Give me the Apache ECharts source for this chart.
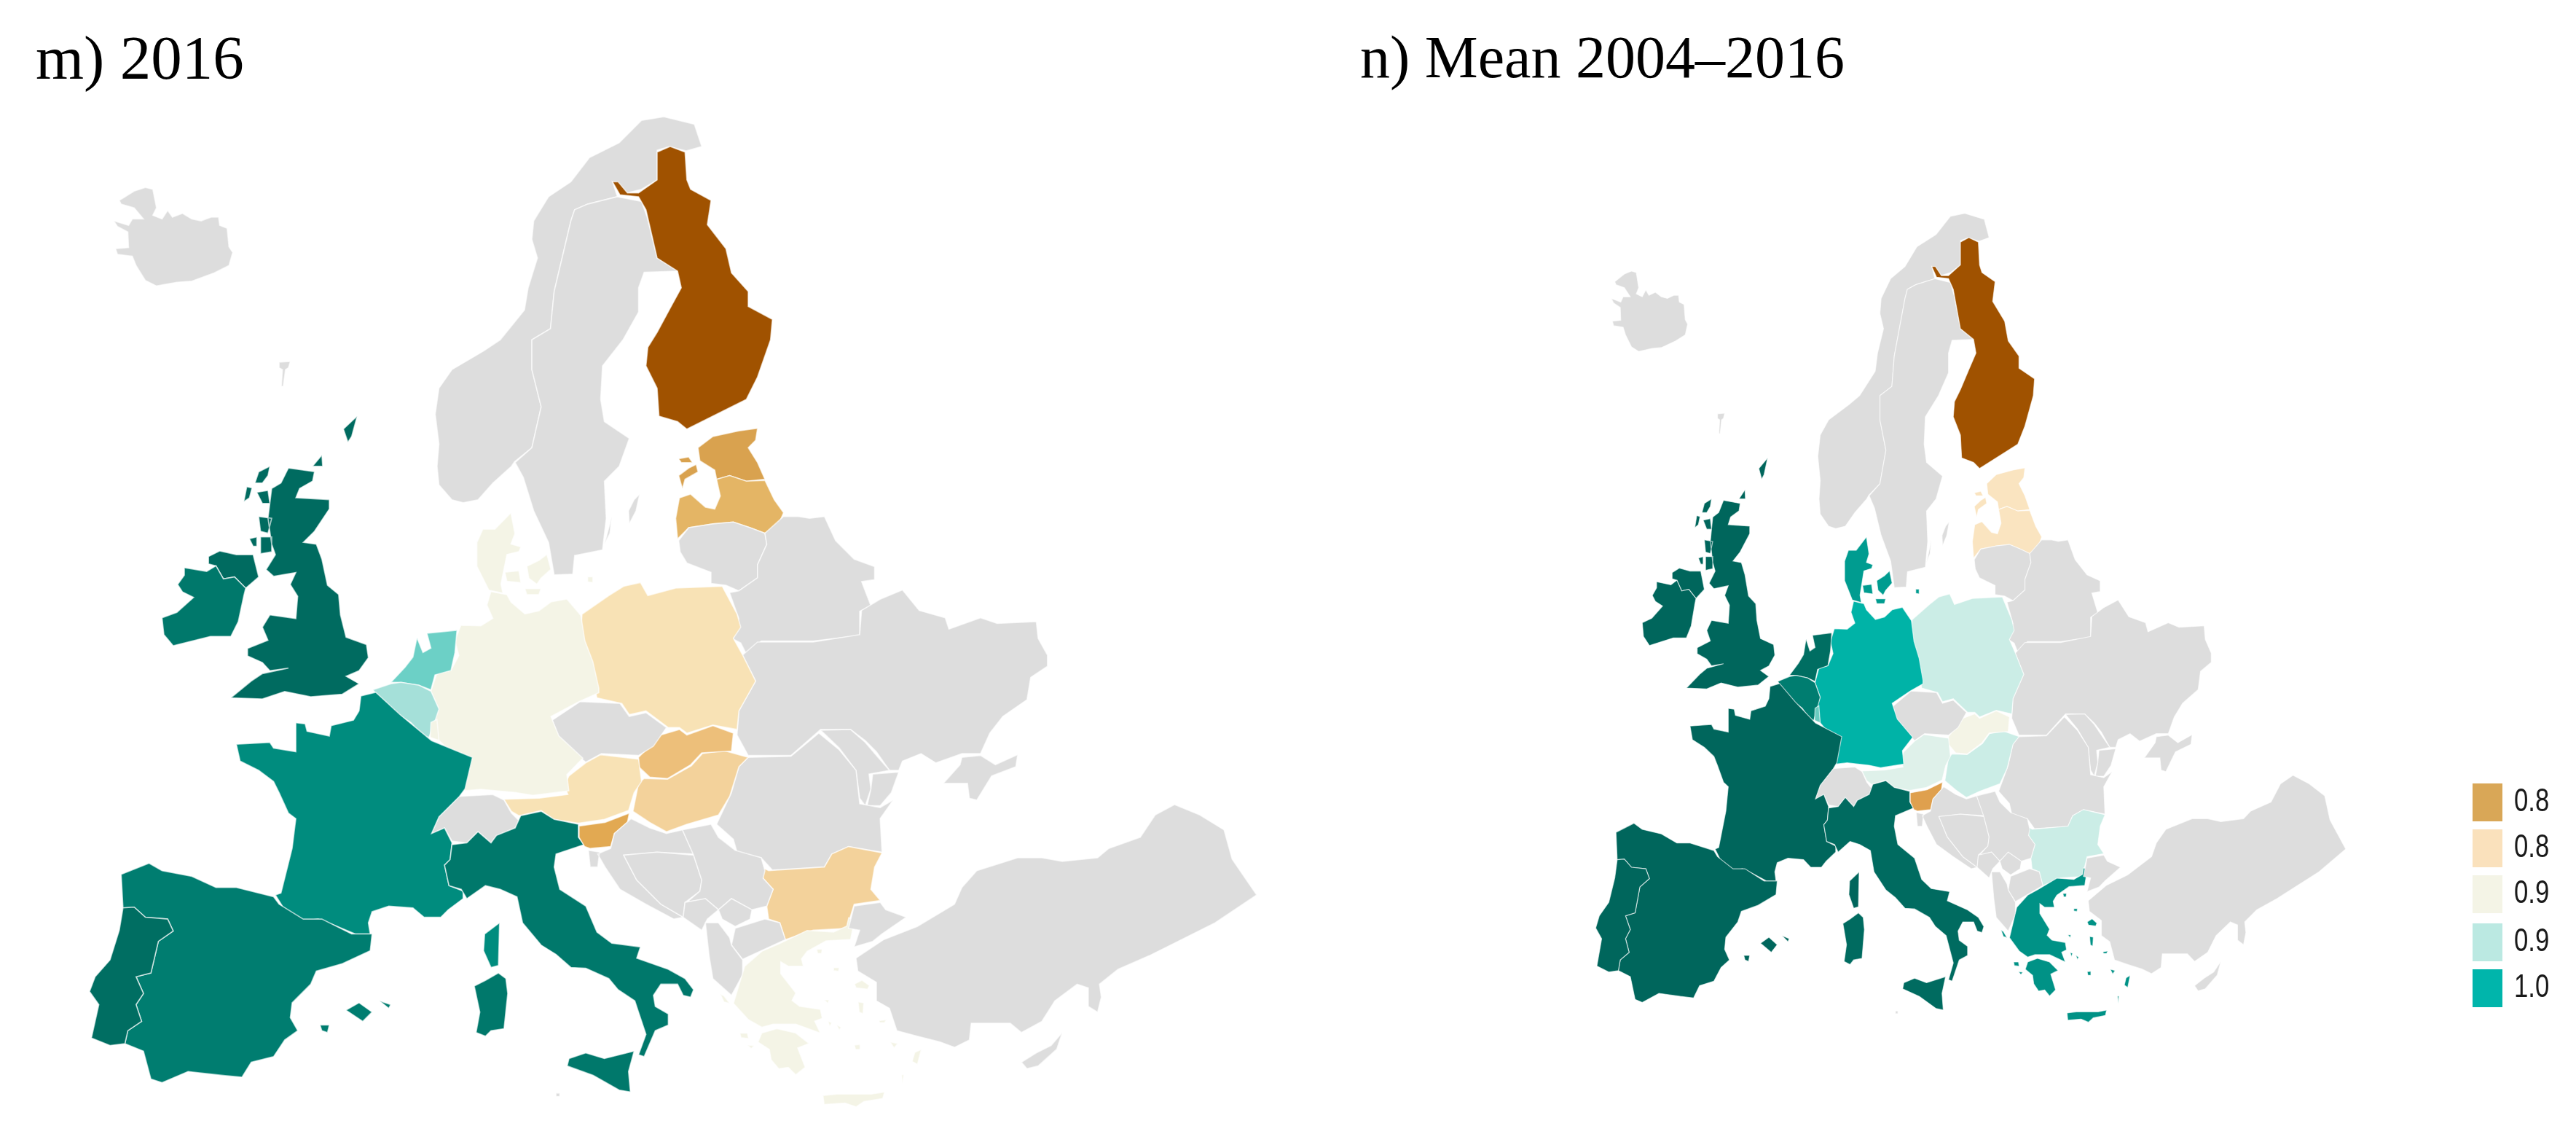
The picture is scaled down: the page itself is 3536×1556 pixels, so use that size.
<!DOCTYPE html>
<html><head><meta charset="utf-8">
<style>html,body{margin:0;padding:0;background:#fff}#c{width:3536px;height:1556px}</style>
<script src="https://cdn.jsdelivr.net/npm/echarts@6/dist/echarts.min.js"></script>
</head><body><div id="c"></div>
<script>
// ---- data ----
const countries = ['Finland','Estonia','Latvia','Poland','Germany','Denmark','Netherlands','Belgium','Luxembourg','France','Spain','Portugal','Italy','United Kingdom','Northern Ireland','Ireland','Slovakia','Hungary','Austria','Slovenia','Bulgaria','Greece'];
const values2016 = [0.60,0.76,0.78,0.82,0.87,0.87,0.94,0.92,0.87,1.02,1.04,1.07,1.05,1.08,1.08,1.05,0.80,0.81,0.82,0.77,0.81,0.87];
const valuesMean = [0.60,0.83,0.83,0.90,1.00,1.01,1.07,1.04,0.96,1.09,1.09,1.09,1.08,1.09,1.09,1.09,0.87,0.90,0.895,0.75,0.90,1.03];
const levels = [0.60,0.75,0.76,0.77,0.78,0.80,0.81,0.82,0.83,0.87,0.895,0.90,0.92,0.94,0.96,1.00,1.01,1.02,1.03,1.04,1.05,1.07,1.08,1.09];
const levelColors = ['#A05200','#DFA04E','#D9A24F','#E2A952','#E4B565','#EDBF7A','#F3D29B','#F8E2B5','#FAE4C0','#F4F4E6','#DFF1EA','#CBEDE6','#A5E0D9','#6CD0C6','#6ACBC0','#00B3A7','#009C90','#008C7E','#009286','#007D70','#00786B','#006E62','#006B60','#00665C'];
const legendLabels = ['0.8','0.8','0.9','0.9','1.0'];
const legendColors = ['#D9A757','#FAE1BC','#F4F4E6','#BBE9E2','#00B5AB'];
const titles = ['m) 2016','n) Mean 2004\u20132016'];

// ---- outline sources: local tracing frames [originX, originY, scaleX, scaleY] ----
const frames = {
  A:[100,150,.5102,.5102], B:[800,150,.5102,.5102], C:[100,756,.5102,.5102], D:[800,756,.5102,.5102],
  E:[355.6,658.8,.5487,.408], F:[838.2,1209.5,.5187,.408]
};
const shapes = {
 'Iceland':[['A',[110,300,150,312,160,295,190,295,165,265,130,255,125,245,165,220,195,210,215,215,225,265,215,285,240,295,255,272,268,290,295,280,320,295,345,300,372,290,392,290,395,312,415,320,420,370,430,385,420,420,380,440,320,462,280,465,225,475,195,460,170,420,160,395,120,390,115,375,150,372,148,330,120,315]]],
 'Faroe':[['A',[555,680,585,678,580,695,572,700,566,745,561,745,564,700,555,695]]],
 'Norway':[['A',[1050,1058,1090,1050,1130,1005,1180,960,1188,948,1235,910,1260,800,1235,700,1235,620,1285,590,1295,490,1340,300,1350,270,1385,255,1465,235,1452,195,1490,225,1530,215,1572,190,1572,110,1605,100,1650,112,1692,100,1672,40,1590,20,1530,30,1470,90,1390,130,1340,195,1280,235,1240,300,1235,350,1250,400,1225,480,1215,540,1150,620,1105,650,1020,700,985,750,975,820,985,900,980,960,985,1010,1020,1050]]],
 'Sweden':[['A',[1385,255,1465,235,1490,240,1530,248,1545,290,1572,400,1627,435,1537,438,1522,480,1522,545,1480,620,1425,690,1420,780,1430,840,1497,885,1470,960,1430,1000,1435,1100,1425,1185,1350,1200,1345,1250,1295,1252,1280,1165,1240,1080,1212,990,1190,950,1235,910,1260,800,1235,700,1235,620,1285,590,1295,490,1340,300,1350,270]],
   ['A',[1525,1035,1510,1050,1495,1080,1497,1115,1515,1080]],['A',[1450,1095,1430,1170,1445,1140]]],
 'Finland':[['B',[235,100,275,115,280,190,290,215,345,245,335,310,385,375,400,440,445,490,445,530,510,565,505,620,470,720,440,780,380,810,280,860,255,840,205,825,200,750,170,690,175,640,200,600,235,535,265,480,255,435,200,400,170,270,150,235,100,230,80,195,95,195,120,225,150,225,200,190,200,115]]],
 'Estonia':[['B',[310,910,350,880,420,865,470,858,465,890,445,910,470,950,490,995,440,1000,395,985,360,995,355,970,315,945]],['B',[258,985,285,965,305,955,310,975,275,995,268,1020]],['B',[258,940,285,935,295,950,265,950]]],
 'Latvia':[['B',[360,995,395,985,440,1000,490,998,515,1050,540,1085,525,1120,490,1140,450,1125,405,1110,350,1115,285,1125,255,1155,250,1100,260,1045,290,1035,330,1070,355,1075,370,1040]]],
 'Lithuania':[['B',[258,1160,285,1125,350,1115,405,1110,450,1125,490,1140,495,1170,470,1225,470,1260,420,1295,385,1280,345,1275,345,1245,280,1220,262,1190]]],
 'Belarus':[['B',[490,1140,540,1095,580,1095,610,1100,650,1095,680,1160,730,1210,785,1230,785,1265,750,1270,775,1335,745,1350,745,1415,620,1430,480,1430,440,1465,425,1435,405,1425,420,1370,395,1300,420,1295,470,1260,470,1225,495,1170]]],
 'Ukraine':[['D',[745,225,750,160,800,130,860,105,905,160,975,180,985,210,1070,180,1115,195,1220,190,1225,235,1250,280,1250,310,1205,340,1195,400,1130,445,1095,490,1070,545,1020,545,950,570,910,545,860,565,850,590,825,590,790,540,760,510,720,480,640,480,560,550,445,550,415,495,420,430,465,350,430,280,470,245,620,245]],
   ['D',[970,625,1015,575,1020,555,1070,550,1110,575,1170,548,1165,580,1100,605,1060,670,1040,665,1035,625]],
   ['D',[780,600,850,595,830,650,800,685,765,685,775,640]]],
 'Moldova':[['D',[640,482,720,480,760,515,790,550,825,590,770,600,775,640,760,685,745,665,735,590,690,530]]],
 'Romania':[['D',[445,555,560,552,635,490,690,535,735,590,745,680,800,690,835,670,800,720,805,810,715,795,670,815,650,850,510,858,480,825,415,810,405,775,360,735,400,650,420,580]]],
 'Bulgaria':[['D',[480,850,500,860,650,850,670,815,715,795,805,812,785,850,775,910,800,940,730,950,710,1015,620,1020,545,1045,530,1000,500,990,495,955,512,910,485,880]]],
 'Hungary':[['D',[150,625,165,612,228,614,292,578,322,545,380,537,445,555,420,580,395,660,365,710,280,735,225,755,180,730,135,700]]],
 'Slovakia':[['D',[150,555,210,495,260,480,280,495,350,470,405,490,400,538,320,543,290,575,228,612,180,608,150,580]]],
 'Poland':[['D',[-2,170,70,120,110,95,155,85,175,120,250,100,375,95,415,170,425,205,405,235,430,280,465,350,420,430,415,480,350,468,280,490,260,475,230,475,170,430,125,440,105,410,38,395,28,350,-7,240]]],
 'Czechia':[['D',[-82,455,-7,405,100,410,125,445,170,435,225,475,190,525,150,550,50,545,8,568,-62,510]]],
 'Austria':[['C',[1160,668,1180,700,1200,712,1260,698,1295,722,1360,732,1430,722,1495,698,1510,650,1530,620,1522,560,1420,548,1380,570,1335,605,1322,630,1332,655,1255,665]]],
 'Switzerland':[['C',[1040,660,1130,655,1160,670,1180,705,1200,725,1190,745,1140,765,1125,785,1090,755,1060,785,1020,780,1000,745,965,760,985,715]]],
 'Germany':[['E',[505,488,555,490,585,465,570,420,580,375,620,385,630,410,665,450,700,440,730,410,770,400,805,455,815,540,835,610,850,700,850,715,800,745,730,795,750,860,810,935,770,990,775,1045,685,1060,640,1050,555,1040,510,1045,525,930,470,900,450,875,440,800,450,770,430,710,445,650,480,640,500,590,490,540]]],
 'Netherlands':[['E',[420,515,495,505,490,580,480,640,440,655,430,705,400,690,355,680,330,680,365,630,385,595,395,530,410,580,430,565]]],
 'Belgium':[['E',[285,705,330,685,355,680,400,690,430,710,450,770,440,810,425,865,410,860,380,815,320,765]]],
 'Luxembourg':[['E',[430,815,445,805,450,875,428,865]]],
 'Denmark':[['E',[630,110,640,180,630,215,655,225,650,240,620,250,605,350,610,380,575,370,560,330,545,290,545,210,560,165,590,165]],['E',[615,310,650,305,655,345,620,340]],['E',[670,290,700,270,720,250,730,300,705,330,695,350,675,330]],['E',[665,365,705,365,700,385,670,385]],['E',[822,325,835,325,835,345,822,342]]],
 'France':[['C',[775,390,815,380,880,440,965,510,1075,555,1055,640,1040,660,985,715,965,760,1000,745,1020,785,1015,830,1000,845,1012,900,1050,915,1050,935,1010,965,990,985,945,985,915,960,850,955,805,970,795,1000,800,1030,760,1030,700,1005,660,990,620,995,570,965,545,925,560,920,590,800,600,720,580,705,555,650,540,620,500,590,450,565,440,520,530,515,540,530,600,540,600,462,625,465,630,485,690,498,695,470,755,455,770,430]],['C',[1148,1000,1145,1115,1125,1120,1105,1075,1108,1030]]],
 'Spain':[['C',[130,870,205,840,240,860,320,875,385,905,440,905,540,930,555,950,620,990,670,990,750,1030,805,1030,800,1075,725,1110,655,1130,640,1165,590,1215,585,1255,605,1290,570,1315,540,1360,480,1375,455,1415,400,1410,310,1400,240,1430,210,1420,190,1345,140,1325,148,1290,185,1265,170,1220,190,1190,170,1145,210,1135,230,1050,270,1022,255,990,195,985,165,958,135,960]],['C',[735,1235,770,1215,805,1240,780,1265]],['C',[825,1210,855,1220,850,1230]],['C',[665,1275,690,1275,685,1295,670,1290]]],
 'Portugal':[['C',[135,960,165,958,195,985,255,990,270,1022,230,1050,210,1135,170,1145,190,1190,170,1220,185,1265,148,1290,140,1325,100,1330,50,1310,70,1220,45,1185,60,1145,100,1100,125,1020]]],
 'Italy':[['C',[1020,790,1060,785,1090,755,1125,785,1140,765,1190,745,1205,712,1260,700,1295,722,1360,735,1360,770,1375,790,1300,815,1295,850,1310,910,1380,955,1410,1025,1450,1055,1527,1065,1517,1095,1602,1125,1647,1150,1670,1180,1662,1200,1642,1195,1627,1165,1582,1165,1562,1195,1567,1225,1602,1245,1602,1275,1567,1290,1537,1360,1522,1355,1542,1300,1522,1240,1512,1210,1467,1180,1442,1150,1380,1122,1340,1120,1300,1085,1260,1060,1210,1000,1195,930,1150,910,1110,900,1060,935,1045,910,1012,900,1000,845,1015,830]],
   ['C',[1145,1135,1165,1150,1170,1190,1160,1285,1125,1290,1110,1305,1085,1295,1095,1240,1080,1170,1110,1155]],
   ['C',[1335,1365,1380,1350,1430,1365,1510,1345,1495,1400,1500,1455,1470,1450,1400,1410,1330,1385]]],
 'Malta':[['C',[1300,1458,1310,1458,1310,1467,1300,1467]]],
 'United Kingdom':[['C',[580,-223,650,-213,645,-188,610,-168,600,-143,690,-138,690,-113,650,-53,620,-23,655,-18,670,22,685,92,715,117,720,172,735,232,790,252,795,287,770,322,735,337,770,357,725,385,640,392,570,378,510,398,425,395,480,350,510,330,580,315,530,322,510,300,470,282,470,262,525,240,510,205,530,172,600,182,605,122,585,90,600,58,540,68,520,50,545,10,535,-18,525,-88,535,-168,560,-183]],
   ['A',[490,1005,500,975,530,960,525,985,510,1005]],['A',[460,1055,468,1015,482,1018,475,1045]],['A',[495,1030,525,1025,530,1060,510,1060]],['A',[500,1095,535,1100,525,1140,505,1135]],['A',[475,1155,495,1150,495,1175,485,1175]],['A',[505,1150,535,1150,535,1190,505,1195]],['A',[645,960,670,930,672,960]],['A',[728,860,765,825,750,880,740,895]]],
 'Northern Ireland':[['C',[365,15,395,0,440,10,485,10,500,70,465,100,435,70,405,75,385,40,365,35]]],
 'Ireland':[['C',[300,45,360,55,385,40,405,75,435,70,465,100,460,120,445,190,425,230,370,230,270,255,245,225,240,180,280,165,325,125,295,110,282,90,300,65]]],
 'Slovenia':[['D',[-10,740,60,730,125,705,120,730,85,760,75,795,20,800,5,795,-10,770]]],
 'Croatia':[['D',[75,800,85,760,130,720,180,745,225,760,268,750,298,815,200,810,110,818,145,885,210,950,270,985,245,990,170,950,100,910,60,850,40,815]],['D',[15,805,45,810,40,850,20,850]]],
 'Bosnia':[['D',[110,818,200,810,298,818,320,885,315,915,275,945,270,985,210,950,145,885]]],
 'Serbia':[['D',[268,750,345,735,365,770,410,805,480,825,490,860,485,880,512,910,495,955,455,965,400,935,365,965,330,935,280,945,315,915,320,885,298,818]]],
 'Montenegro':[['D',[275,945,330,935,365,965,335,990,320,1020,270,985]]],
 'Kosovo':[['D',[365,965,400,935,455,965,450,990,410,1010,375,990]]],
 'Macedonia':[['D',[410,1015,490,990,530,1000,545,1045,480,1075,430,1098,400,1060]]],
 'Albania':[['D',[330,1000,365,1000,395,1040,400,1060,430,1100,430,1140,400,1195,350,1150,340,1090]]],
 'Greece':[['F',[630,122,645,130,635,195,570,200,520,235,505,260,510,285,470,285,450,270,450,310,490,375,480,400,500,420,555,430,560,460,540,470,555,510,490,480,430,480,400,490,365,465,325,410,355,285,400,235,445,210,520,165,590,170,625,150]],
   ['F',[400,510,440,495,490,510,525,545,495,560,515,625,490,650,470,625,445,630,425,600,420,565,390,540]],
   ['F',[562,720,600,715,690,715,725,708,720,730,670,740,650,758,620,745,565,750]],
   ['F',[645,345,665,332,685,350,680,362,650,358]],['F',[655,405,670,408,668,445,658,440]],['F',[805,575,822,565,812,615,798,605]],['F',[342,510,362,510,365,528,345,525]],['F',[362,550,380,552,372,562]],['F',[290,378,300,385,315,410,300,405]],['F',[545,228,560,228,558,242,548,242]],['F',[590,290,605,290,603,302,590,300]],['F',[710,468,730,465,725,475,712,475]],['F',[740,540,760,545,750,560]],['F',[645,550,660,548,660,565,648,565]],['F',[575,470,585,475,580,488]],['F',[598,482,610,490,605,500]],['F',[565,398,578,398,575,410]],['F',[770,650,776,650,772,680]]],
 'Turkey':[['D',[730,955,800,945,815,965,870,985,805,1030,780,1050,730,1065,745,1020,715,1015]],
   ['D',[1000,950,1020,905,1060,860,1170,825,1235,825,1290,835,1385,825,1415,800,1500,770,1540,710,1592,682,1660,710,1725,750,1747,829,1813,925,1701,1000,1525,1088,1440,1125,1390,1165,1395,1200,1385,1240,1360,1225,1360,1175,1330,1165,1270,1210,1235,1265,1180,1295,1150,1270,1045,1270,1040,1315,1000,1335,960,1320,900,1305,845,1290,825,1230,790,1210,790,1160,740,1130,735,1095,780,1065,810,1045,900,1010]]],
 'Cyprus':[['D',[1180,1375,1220,1350,1260,1330,1290,1295,1275,1340,1225,1385,1195,1392]]]
};

// ---- map built from the outlines ----
let minX=1e9,maxX=-1e9,minY=1e9,maxY=-1e9;
const features = Object.keys(shapes).map(name=>({
  type:'Feature', properties:{name},
  geometry:{type:'MultiPolygon',coordinates:shapes[name].map(([f,flat])=>{
    const [ox,oy,sx,sy]=frames[f], ring=[];
    for(let i=0;i<flat.length;i+=2){
      const x=ox+flat[i]*sx, y=oy+flat[i+1]*sy;
      minX=Math.min(minX,x);maxX=Math.max(maxX,x);minY=Math.min(minY,y);maxY=Math.max(maxY,y);
      ring.push([x,-y]);
    }
    ring.push(ring[0]);
    return [ring];
  })}
}));
// one map name per panel: series sharing a name would be merged into one drawing
echarts.registerMap('europe2016',{type:'FeatureCollection',features});
echarts.registerMap('europeMean',{type:'FeatureCollection',features});

const chart = echarts.init(document.getElementById('c'),null,{renderer:'canvas'});
const W=maxX-minX,H=maxY-minY;
const k2x=.6427,b2x=2111.3,k2y=.817,b2y=161.8;
const mapSeries=(map,vals,left,top,width,height,bw)=>({
  type:'map',map,roam:false,silent:true,aspectScale:1,selectedMode:false,
  left,top,width,height,
  label:{show:false},emphasis:{disabled:true},
  itemStyle:{areaColor:'#DDDDDD',borderColor:'rgba(255,255,255,0.65)',borderWidth:bw},
  data:countries.map((n,i)=>({name:n,value:vals[i]}))
});
const legendTop=[1075,1138,1201,1267,1330];
chart.setOption({
  animation:false,backgroundColor:'#fff',
  title:[
    {text:titles[0],left:44,top:38,textStyle:{fontFamily:'Liberation Serif',fontSize:85,fontWeight:'normal',color:'#000'}},
    {text:titles[1],left:1862,top:38,textStyle:{fontFamily:'Liberation Serif',fontSize:82,fontWeight:'normal',color:'#000'}}
  ],
  visualMap:{type:'piecewise',show:false,seriesIndex:[0,1],
    pieces:levels.map((v,i)=>({value:v,color:levelColors[i]}))},
  series:[
    mapSeries('europe2016',values2016,minX,minY,W,H,1.6),
    mapSeries('europeMean',valuesMean,k2x*minX+b2x,k2y*minY+b2y,k2x*W,k2y*H,1.2)
  ],
  graphic:legendLabels.flatMap((t,i)=>[
    {type:'rect',shape:{x:3394,y:legendTop[i],width:41,height:52},style:{fill:legendColors[i]}},
    {type:'text',x:3451,y:legendTop[i]+26,scaleX:0.79,style:{text:t,fill:'#1a1a1a',font:'44px "Liberation Sans"',textBaseline:'middle',textVerticalAlign:'middle'}}
  ])
});
</script></body></html>
